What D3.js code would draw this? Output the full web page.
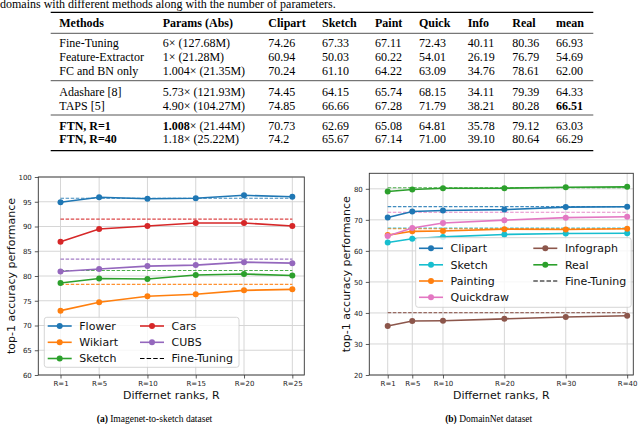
<!DOCTYPE html>
<html>
<head>
<meta charset="utf-8">
<script src="https://cdn.jsdelivr.net/npm/d3@7"></script>
<style>
body { margin: 0; background: #fff; }
svg { display: block; }
</style>
</head>
<body>
<div id="chart"></div>
<script>
// ---------- data ----------
var captionText = "domains with different methods along with the number of parameters.";

var tableCols = ["Methods", "Params (Abs)", "Clipart", "Sketch", "Paint", "Quick", "Info", "Real", "mean"];
var tableMethods = ["Fine-Tuning", "Feature-Extractor", "FC and BN only", "Adashare [8]", "TAPS [5]", "FTN, R=1", "FTN, R=40"];
var tableMult = ["6", "1", "1.004", "5.73", "4.90", "1.008", "1.18"];
var tableSize = ["127.68M", "21.28M", "21.35M", "121.93M", "104.27M", "21.44M", "25.22M"];
var tableScores = [
  ["74.26", "67.33", "67.11", "72.43", "40.11", "80.36", "66.93"],
  ["60.94", "50.03", "60.22", "54.01", "26.19", "76.79", "54.69"],
  ["70.24", "61.10", "64.22", "63.09", "34.76", "78.61", "62.00"],
  ["74.45", "64.15", "65.74", "68.15", "34.11", "79.39", "64.33"],
  ["74.85", "66.66", "67.28", "71.79", "38.21", "80.28", "66.51"],
  ["70.73", "62.69", "65.08", "64.81", "35.78", "79.12", "63.03"],
  ["74.2", "65.67", "67.14", "71.00", "39.10", "80.64", "66.29"]
];

// (a) Imagenet-to-sketch
var ranksA = [1, 5, 10, 15, 20, 25];
var xLabelsA = ["R=1", "R=5", "R=10", "R=15", "R=20", "R=25"];
var yTicksA = [60, 65, 70, 75, 80, 85, 90, 95, 100];
var namesA = ["Flower", "Wikiart", "Sketch", "Cars", "CUBS"];
var flowerA = [94.9, 95.9, 95.6, 95.7, 96.3, 96.0];
var wikiartA = [73.0, 74.7, 75.9, 76.3, 77.1, 77.3];
var sketchA = [78.6, 79.5, 79.4, 80.2, 80.4, 80.1];
var carsA = [86.9, 89.5, 90.1, 90.7, 90.7, 90.1];
var cubsA = [80.9, 81.4, 82.0, 82.2, 82.8, 82.6];
var fineTuneA = [95.7, 78.3, 81.1, 91.5, 83.4];

// (b) DomainNet
var ranksB = [1, 5, 10, 20, 30, 40];
var xLabelsB = ["R=1", "R=5", "R=10", "R=20", "R=30", "R=40"];
var yTicksB = [20, 30, 40, 50, 60, 70, 80];
var namesB = ["Clipart", "Sketch", "Painting", "Quickdraw", "Infograph", "Real"];
var clipartB = [70.73, 72.7, 73.0, 73.3, 74.1, 74.2];
var sketchB = [62.69, 63.9, 64.5, 65.3, 65.6, 65.67];
var paintingB = [65.08, 66.3, 66.4, 67.0, 66.9, 67.14];
var quickdrawB = [64.81, 67.4, 69.0, 69.9, 70.7, 71.00];
var infographB = [35.78, 37.4, 37.5, 38.1, 38.7, 39.10];
var realB = [79.12, 79.8, 80.2, 80.2, 80.5, 80.64];
var fineTuneB = [74.26, 67.33, 67.11, 72.43, 40.11, 80.36];

// ---------- styles ----------
var colorsA = ["#1f77b4", "#ff7f0e", "#2ca02c", "#d62728", "#9467bd"];
var colorsB = ["#1f77b4", "#17becf", "#ff7f0e", "#e377c2", "#8c564b", "#2ca02c"];
var serif = "'Liberation Serif', 'Times New Roman', serif";
var sans = "'DejaVu Sans', sans-serif";

var svg = d3.select("#chart").append("svg")
  .attr("width", 640)
  .attr("height", 424);

svg.append("rect").attr("width", 640).attr("height", 424).attr("fill", "#fff");

// ---------- table ----------
svg.append("text")
  .attr("x", 0).attr("y", 7.5)
  .attr("font-family", serif).attr("font-size", 12)
  .text(captionText);

var colX = [59.3, 162.7, 268.3, 322, 375, 419, 467.7, 512.3, 556];
var rowY = [43.3, 57.3, 71, 92.3, 105.7, 125.7, 139];
var ruleY = [12.3, 33.3, 80.7, 115, 150.7];

svg.selectAll(".rule").data(ruleY).join("line")
  .attr("class", "rule")
  .attr("x1", 50.7).attr("x2", 593.3)
  .attr("y1", d => d).attr("y2", d => d)
  .attr("stroke", (d, i) => (i == 0 || i == ruleY.length - 1) ? "#000" : "#555")
  .attr("stroke-width", (d, i) => (i == 0 || i == ruleY.length - 1) ? 1.3 : 1);

var tbl = svg.append("g").attr("font-family", serif).attr("font-size", 12).attr("fill", "#000");

tbl.selectAll(".hdr").data(tableCols).join("text")
  .attr("class", "hdr")
  .attr("x", (d, i) => colX[i]).attr("y", 22.7 + 4)
  .attr("font-weight", "bold")
  .text(d => d);

tableMethods.forEach(function(m, r) {
  var y = rowY[r] + 4;
  tbl.append("text").attr("x", colX[0]).attr("y", y)
    .attr("font-weight", r >= 5 ? "bold" : "normal")
    .text(m);
  var p = tbl.append("text").attr("x", colX[1]).attr("y", y);
  p.append("tspan").attr("font-weight", r == 5 ? "bold" : "normal").text(tableMult[r]);
  p.append("tspan").text("\u00d7 (" + tableSize[r] + ")");
  tableScores[r].forEach(function(s, c) {
    tbl.append("text").attr("x", colX[c + 2]).attr("y", y)
      .attr("font-weight", (r == 4 && c == 6) ? "bold" : "normal")
      .text(s);
  });
});

// ---------- line panels ----------
function drawPanel(cfg) {
  var g = svg.append("g");
  var x = d3.scaleLinear().domain(cfg.xDomain).range([cfg.left, cfg.right]);
  var y = d3.scaleLinear().domain(cfg.yDomain).range([cfg.bottom, cfg.top]);

  // grid
  g.append("g").selectAll("line").data(cfg.ranks).join("line")
    .attr("x1", d => x(d)).attr("x2", d => x(d))
    .attr("y1", cfg.top).attr("y2", cfg.bottom)
    .attr("stroke", "#d6d6d6").attr("stroke-width", 1);
  g.append("g").selectAll("line").data(cfg.yTicks).join("line")
    .attr("x1", cfg.left).attr("x2", cfg.right)
    .attr("y1", d => y(d)).attr("y2", d => y(d))
    .attr("stroke", "#d6d6d6").attr("stroke-width", 1);

  // axes
  var xa = g.append("g")
    .attr("transform", "translate(0," + cfg.bottom + ")")
    .call(d3.axisBottom(x).tickValues(cfg.ranks)
      .tickFormat((d, i) => cfg.xLabels[i]).tickSize(3.5).tickPadding(3));
  var ya = g.append("g")
    .attr("transform", "translate(" + cfg.left + ",0)")
    .call(d3.axisLeft(y).tickValues(cfg.yTicks).tickSize(3.5).tickPadding(3));
  [xa, ya].forEach(function(a) {
    a.select(".domain").remove();
    a.attr("font-family", sans).attr("font-size", 7);
    a.selectAll("line").attr("stroke", "#333").attr("stroke-width", 0.8);
    a.selectAll("text").attr("fill", "#222");
  });

  // frame
  g.append("rect")
    .attr("x", cfg.left).attr("y", cfg.top)
    .attr("width", cfg.right - cfg.left).attr("height", cfg.bottom - cfg.top)
    .attr("fill", "none").attr("stroke", "#333").attr("stroke-width", 0.9);

  // fine-tuning references
  var x0 = d3.min(cfg.ranks), x1 = d3.max(cfg.ranks);
  g.append("g").selectAll("line").data(cfg.fineTune).join("line")
    .attr("x1", x(x0)).attr("x2", x(x1))
    .attr("y1", d => y(d)).attr("y2", d => y(d))
    .attr("stroke", (d, i) => cfg.colors[i])
    .attr("stroke-width", 1.1)
    .attr("stroke-dasharray", "3.5,1.6")
    .attr("opacity", 0.85);

  // series
  var line = d3.line().x((d, i) => x(cfg.ranks[i])).y(d => y(d));
  cfg.values.forEach(function(vals, k) {
    var s = g.append("g");
    s.append("path").datum(vals)
      .attr("d", line)
      .attr("fill", "none")
      .attr("stroke", cfg.colors[k])
      .attr("stroke-width", 1.6);
    s.selectAll("circle").data(vals).join("circle")
      .attr("cx", (d, i) => x(cfg.ranks[i]))
      .attr("cy", d => y(d))
      .attr("r", 3)
      .attr("fill", cfg.colors[k]);
  });

  // legend
  var lg = cfg.legend;
  g.append("rect")
    .attr("x", lg.x).attr("y", lg.y).attr("width", lg.w).attr("height", lg.h)
    .attr("rx", 2.5)
    .attr("fill", "#fff").attr("fill-opacity", 0.8)
    .attr("stroke", "#cccccc").attr("stroke-width", 0.8);
  var entries = cfg.names.map((n, i) => ({ name: n, color: cfg.colors[i], dashed: false }));
  entries.push({ name: "Fine-Tuning", color: "#000", dashed: true });
  var nrows = Math.ceil(entries.length / 2);
  entries.forEach(function(e, i) {
    var hx = lg.cols[Math.floor(i / nrows)];
    var hy = lg.rows[i % nrows];
    var eg = g.append("g");
    eg.append("line")
      .attr("x1", hx).attr("x2", hx + 24)
      .attr("y1", hy).attr("y2", hy)
      .attr("stroke", e.color)
      .attr("stroke-width", e.dashed ? 1.1 : 1.6)
      .attr("stroke-dasharray", e.dashed ? "4.5,2.1" : null);
    if (!e.dashed) {
      eg.append("circle").attr("cx", hx + 12).attr("cy", hy).attr("r", 3).attr("fill", e.color);
    }
    eg.append("text")
      .attr("x", hx + 31.6).attr("y", hy).attr("dy", "0.36em")
      .attr("font-family", sans).attr("font-size", 11).attr("fill", "#111")
      .text(e.name);
  });

  // axis labels
  g.append("text")
    .attr("x", (cfg.left + cfg.right) / 2).attr("y", 395).attr("dy", "0.36em")
    .attr("text-anchor", "middle")
    .attr("font-family", sans).attr("font-size", 11).attr("fill", "#111")
    .text("Differnet ranks, R");
  g.append("text")
    .attr("transform", "translate(" + cfg.yLabelX + "," + (cfg.top + cfg.bottom) / 2 + ") rotate(-90)")
    .attr("dy", "0.36em")
    .attr("text-anchor", "middle")
    .attr("font-family", sans).attr("font-size", 11).attr("fill", "#111")
    .text("top-1 accuracy performance");

  // sub caption
  var cap = g.append("text")
    .attr("x", cfg.capX).attr("y", 419).attr("dy", "0.33em")
    .attr("text-anchor", "middle")
    .attr("font-family", serif).attr("font-size", 9.5);
  cap.append("tspan").attr("font-weight", "bold").text(cfg.capTag);
  cap.append("tspan").text(" " + cfg.capText);
}

drawPanel({
  left: 38.3, right: 304.3, top: 177, bottom: 375,
  xDomain: [-1.3, 26.24], yDomain: [60, 100],
  ranks: ranksA, xLabels: xLabelsA, yTicks: yTicksA,
  names: namesA, colors: colorsA,
  values: [flowerA, wikiartA, sketchA, carsA, cubsA],
  fineTune: fineTuneA,
  legend: { x: 44.3, y: 317.3, w: 194.7, h: 50, cols: [47.7, 140], rows: [326, 342.3, 358.5] },
  yLabelX: 11.5,
  capX: 154.5, capTag: "(a)", capText: "Imagenet-to-sketch dataset"
});

drawPanel({
  left: 369.3, right: 633.3, top: 173.3, bottom: 375,
  xDomain: [-2, 41], yDomain: [20, 85],
  ranks: ranksB, xLabels: xLabelsB, yTicks: yTicksB,
  names: namesB, colors: colorsB,
  values: [clipartB, sketchB, paintingB, quickdrawB, infographB, realB],
  fineTune: fineTuneB,
  legend: { x: 415.7, y: 237.7, w: 215.5, h: 69.6, cols: [419, 533.3], rows: [248.3, 264.8, 281, 297.3] },
  yLabelX: 346,
  capX: 488.7, capTag: "(b)", capText: "DomainNet dataset"
});
</script>
</body>
</html>
